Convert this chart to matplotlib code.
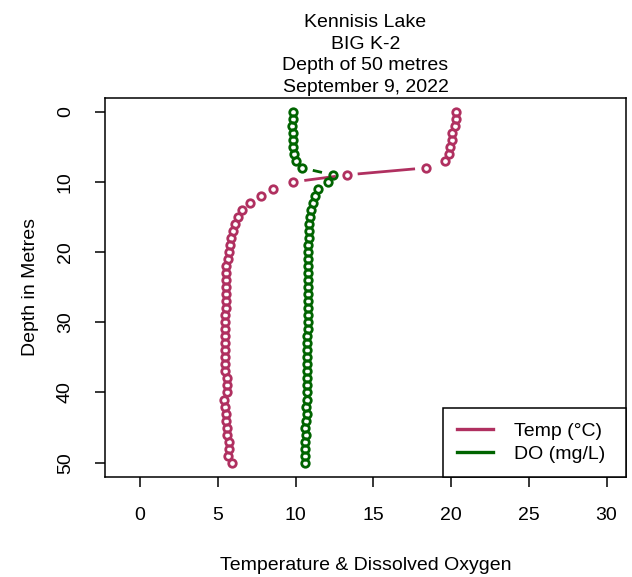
import matplotlib
matplotlib.use('Agg')
import matplotlib.pyplot as plt
import numpy as np
from matplotlib.collections import LineCollection

TITLE = "Kennisis Lake\nBIG K-2\nDepth of 50 metres\nSeptember 9, 2022"
XLABEL = "Temperature & Dissolved Oxygen"
YLABEL = "Depth in Metres"

TEMP_COLOR = "#B03060"   # R "maroon"
DO_COLOR = "#006400"     # R "darkgreen"

depth = list(range(0, 51))

temp = [20.31, 20.31, 20.25, 20.08, 20.04, 19.93, 19.87, 19.61, 18.39, 13.29,
        9.86, 8.53, 7.78, 7.08, 6.58, 6.32, 6.11, 5.96, 5.85, 5.79,
        5.73, 5.68, 5.53, 5.51, 5.51, 5.51, 5.51, 5.51, 5.51, 5.47,
        5.47, 5.47, 5.47, 5.47, 5.47, 5.47, 5.47, 5.47, 5.58, 5.58,
        5.58, 5.40, 5.47, 5.53, 5.51, 5.58, 5.58, 5.73, 5.73, 5.68,
        5.90]

do = [9.82, 9.82, 9.76, 9.82, 9.82, 9.86, 9.90, 10.00, 10.42, 12.39,
      12.11, 11.47, 11.25, 11.11, 10.98, 10.93, 10.89, 10.87, 10.87, 10.82,
      10.82, 10.82, 10.78, 10.78, 10.78, 10.78, 10.78, 10.82, 10.82, 10.82,
      10.78, 10.78, 10.72, 10.72, 10.72, 10.72, 10.72, 10.72, 10.72, 10.72,
      10.72, 10.72, 10.67, 10.72, 10.66, 10.61, 10.67, 10.61, 10.61, 10.61,
      10.61]

xticks = [0, 5, 10, 15, 20, 25, 30]
yticks = [0, 10, 20, 30, 40, 50]

plt.rcParams['font.family'] = ['Liberation Sans', 'DejaVu Sans']
FS = 14


def plot_b(ax, x, y, color, gap=11.0):
    # like R type="b": points, with line pieces that stop short of each point
    pts = ax.transData.transform(np.column_stack([x, y]))
    inv = ax.transData.inverted()
    segs = []
    for p0, p1 in zip(pts[:-1], pts[1:]):
        d = p1 - p0
        L = np.hypot(d[0], d[1])
        if L > 2 * gap:
            u = d / L
            segs.append(inv.transform(np.array([p0 + u * gap, p1 - u * gap])))
    ax.add_collection(LineCollection(segs, colors=color, linewidths=2))
    ax.plot(x, y, linestyle='none', marker='o', markersize=5.4,
            markerfacecolor='none', markeredgecolor=color, markeredgewidth=2.0)


fig = plt.figure(figsize=(6.32, 5.77), dpi=100)
ax = fig.add_axes([0.1665, 0.1738, 0.8237, 0.6569])
ax.set_xlim(-2.24, 31.24)
ax.set_ylim(52, -2)

plot_b(ax, temp, depth, TEMP_COLOR)
plot_b(ax, do, depth, DO_COLOR)

ax.set_xticks(xticks)
ax.set_yticks(yticks)
ax.tick_params(axis='both', direction='out', length=7.5, width=1.1, labelsize=FS)
ax.tick_params(axis='x', pad=14)
ax.tick_params(axis='y', pad=15)
for lab in ax.get_yticklabels():
    lab.set_rotation(90)
    lab.set_va('center')
for s in ax.spines.values():
    s.set_linewidth(1.1)
    s.set_color('black')

ax.set_xlabel(XLABEL, fontsize=FS, labelpad=24)
ax.set_ylabel(YLABEL, fontsize=FS, labelpad=13)
ax.set_title(TITLE, fontsize=FS, linespacing=1.37, pad=4)

h1, = ax.plot([], [], color=TEMP_COLOR, lw=2.4)
h2, = ax.plot([], [], color=DO_COLOR, lw=2.4)
leg = ax.legend([h1, h2], ["Temp (°C)", "DO (mg/L)"], loc='lower right',
                bbox_to_anchor=(0.649, 0, 0.351, 0.1), mode='expand',
                borderaxespad=0, fontsize=FS,
                fancybox=False, edgecolor='black', framealpha=1,
                handlelength=1.85, handletextpad=1.1, labelspacing=0.26,
                borderpad=0.72)
leg.get_frame().set_linewidth(1.1)

fig.savefig("out.png", dpi=100)
